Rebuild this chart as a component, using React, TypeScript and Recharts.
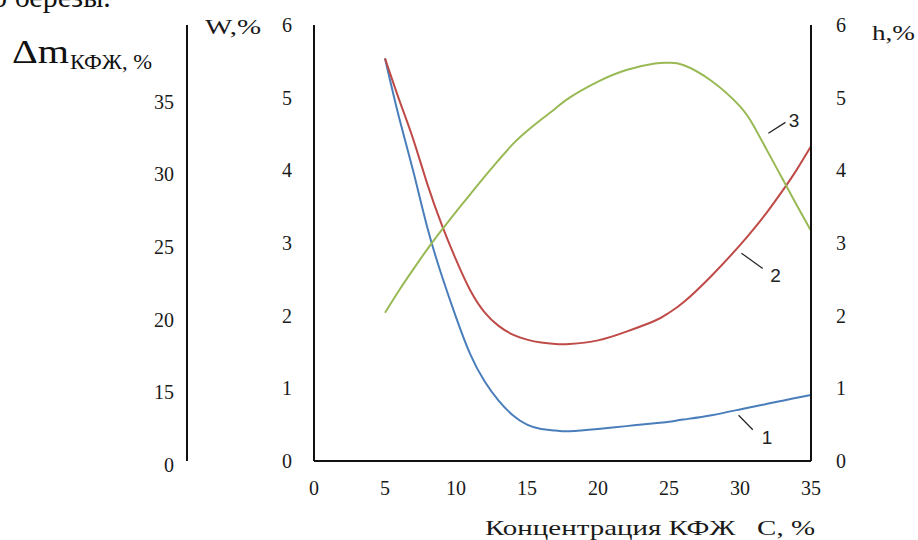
import { LineChart, Line, XAxis, YAxis, ReferenceLine, ReferenceDot } from 'recharts';

const concentration = [5, 6, 7, 8, 9, 10, 11, 12, 13, 14, 15, 16, 17, 18, 20, 22, 24, 25, 26, 28, 30, 31, 32, 33, 34, 35];
const curve1 = [5.54, 4.72, 3.98, 3.2, 2.55, 1.98, 1.47, 1.1, 0.83, 0.63, 0.5, 0.44, 0.42, 0.41, 0.44, 0.48, 0.52, 0.54, 0.57, 0.63, 0.71, 0.75, 0.79, 0.83, 0.87, 0.91];
const curve2 = [5.54, 4.97, 4.42, 3.8, 3.25, 2.77, 2.35, 2.05, 1.86, 1.74, 1.67, 1.63, 1.61, 1.61, 1.66, 1.78, 1.93, 2.04, 2.18, 2.55, 2.97, 3.2, 3.45, 3.72, 4.01, 4.33];
const curve3 = [2.04, 2.35, 2.64, 2.92, 3.18, 3.43, 3.67, 3.91, 4.14, 4.36, 4.54, 4.7, 4.85, 5.0, 5.22, 5.38, 5.47, 5.48, 5.45, 5.23, 4.88, 4.6, 4.24, 3.88, 3.52, 3.17];

const xTicks = [0, 5, 10, 15, 20, 25, 30, 35];
const wTicks = [0, 1, 2, 3, 4, 5, 6];
const dmTicks = [0, 1, 2, 3, 4, 5];
const dmTickLabels = ['0', '15', '20', '25', '30', '35'];

// curve number labels: leader line start/end and text spot, in data units
const curveLabels = [
    { name: '1', from: [29.9, 0.63], to: [30.9, 0.43], at: [31.9, 0.33] },
    { name: '2', from: [30.1, 2.86], to: [31.6, 2.65], at: [32.5, 2.56] },
    { name: '3', from: [32.0, 4.51], to: [33.2, 4.66], at: [33.8, 4.69] },
];

const data = concentration.map((c, i) => ({ c, w: curve1[i], m: curve2[i], h: curve3[i] }));

const serif = '"Liberation Serif", "Times New Roman", serif';
const tickStyle = { fontFamily: serif, fontSize: 20, fill: '#1a1a1a' };
const axisLine = { stroke: '#111', strokeWidth: 2 };

const DmTick = (props: any) => {
    const { x, y, payload } = props;
    return (
        <text x={x} y={y + 4} dy="0.355em" textAnchor="end" fontFamily={serif} fontSize={20} fill="#1a1a1a">
            {dmTickLabels[payload.value]}
        </text>
    );
};

// left axes are stacked by id: "a" (W) sits next to the plot, "b" (Δm) outside it
export default function App() {
    return (
        <div style={{ position: 'absolute', left: 0, top: 0, width: 918, height: 540, background: '#fff' }}>
            <LineChart width={918} height={540} data={data} margin={{ top: 25, right: 0, bottom: 0, left: 127 }}>
                <XAxis
                    dataKey="c"
                    type="number"
                    domain={[0, 35]}
                    ticks={xTicks}
                    height={79}
                    tickLine={false}
                    tickSize={0}
                    tickMargin={20}
                    axisLine={axisLine}
                    tick={tickStyle}
                />
                <YAxis
                    yAxisId="a"
                    domain={[0, 6]}
                    ticks={wTicks}
                    width={127}
                    tickLine={false}
                    tickSize={0}
                    tickMargin={22}
                    axisLine={axisLine}
                    tick={tickStyle}
                />
                <YAxis
                    yAxisId="b"
                    domain={[0, 6]}
                    ticks={dmTicks}
                    width={60}
                    tickLine={false}
                    tickSize={0}
                    tickMargin={13}
                    axisLine={axisLine}
                    tick={<DmTick />}
                />
                <YAxis
                    yAxisId="h"
                    orientation="right"
                    domain={[0, 6]}
                    ticks={wTicks}
                    width={107}
                    tickLine={false}
                    tickSize={0}
                    tickMargin={25}
                    axisLine={axisLine}
                    tick={tickStyle}
                />
                <Line yAxisId="a" dataKey="w" type="natural" stroke="#4a7ebb" strokeWidth={2} dot={false} isAnimationActive={false} />
                <Line yAxisId="b" dataKey="m" type="natural" stroke="#be4b48" strokeWidth={2} dot={false} isAnimationActive={false} />
                <Line yAxisId="h" dataKey="h" type="natural" stroke="#98b954" strokeWidth={2} dot={false} isAnimationActive={false} />
                {curveLabels.map((l) => (
                    <ReferenceLine
                        key={'l' + l.name}
                        yAxisId="a"
                        segment={[{ x: l.from[0], y: l.from[1] }, { x: l.to[0], y: l.to[1] }]}
                        stroke="#222"
                        strokeWidth={1.2}
                    />
                ))}
                {curveLabels.map((l) => (
                    <ReferenceDot
                        key={'d' + l.name}
                        yAxisId="a"
                        x={l.at[0]}
                        y={l.at[1]}
                        r={0}
                        fill="none"
                        stroke="none"
                        label={{ value: l.name, position: 'center', fill: '#222', fontSize: 19, fontFamily: '"Liberation Sans", Arial, sans-serif' }}
                    />
                ))}
            </LineChart>
            <svg width={918} height={540} style={{ position: 'absolute', left: 0, top: 0, pointerEvents: 'none' }}>
                <text x={-8} y={7} fontFamily={serif} fontSize={30} fill="#111">о березы.</text>
                <text x={12} y={63} fontFamily={serif} fontSize={34} fill="#111" textLength={57} lengthAdjust="spacingAndGlyphs">Δm</text>
                <text x={70} y={69} fontFamily={serif} fontSize={20} fill="#111" textLength={82} lengthAdjust="spacingAndGlyphs">КФЖ, %</text>
                <text x={205} y={34} fontFamily={serif} fontSize={21} fill="#1a1a1a" textLength={56} lengthAdjust="spacingAndGlyphs">W,%</text>
                <text x={872} y={40} fontFamily={serif} fontSize={21} fill="#1a1a1a" textLength={43} lengthAdjust="spacingAndGlyphs">h,%</text>
                <text x={485} y={535} fontFamily={serif} fontSize={22} fill="#1a1a1a" style={{ whiteSpace: 'pre' }} textLength={330} lengthAdjust="spacingAndGlyphs">Концентрация КФЖ   С, %</text>
            </svg>
        </div>
    );
}
